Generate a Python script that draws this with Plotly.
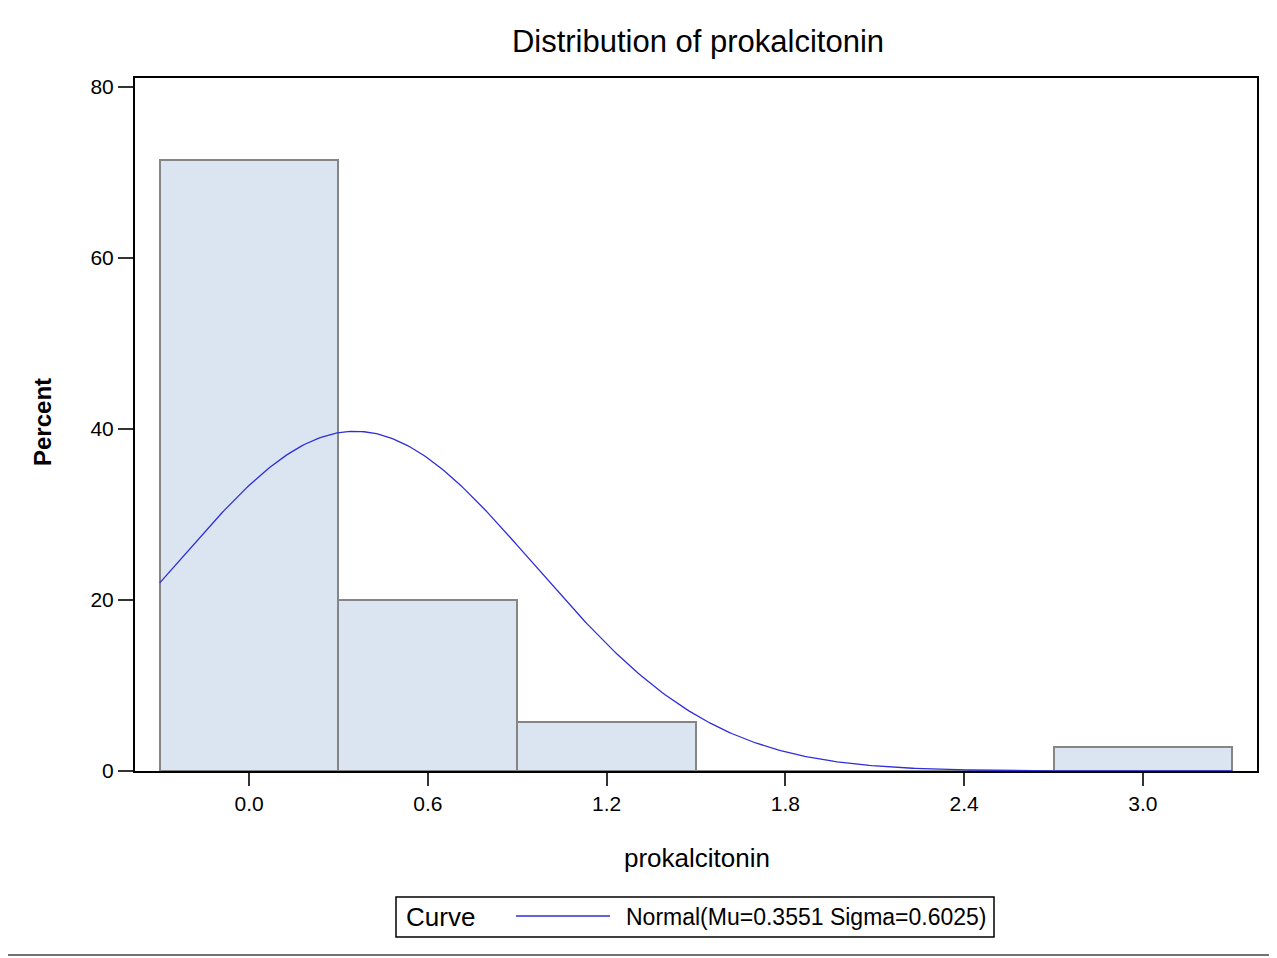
import numpy as np
import plotly.graph_objects as go

# Histogram data (percent per bin, bin width 0.6)
bin_midpoints = [0.0, 0.6, 1.2, 1.8, 2.4, 3.0]
bin_percents = [71.43, 20.0, 5.71, 0.0, 0.0, 2.86]
BIN_WIDTH = 0.6

# Fitted normal curve parameters (from the legend)
MU = 0.3551
SIGMA = 0.6025
x_tick_vals = [0.0, 0.6, 1.2, 1.8, 2.4, 3.0]
x_tick_text = ["0.0", "0.6", "1.2", "1.8", "2.4", "3.0"]
y_tick_vals = [0, 20, 40, 60, 80]

FONT = "Liberation Sans Narrow, Arial Narrow, Liberation Sans, sans-serif"
CURVE_COLOR = "#2E2EDA"

curve_x = np.linspace(-0.3, 3.3, 400)
curve_y = 100 * BIN_WIDTH * np.exp(-0.5 * ((curve_x - MU) / SIGMA) ** 2) / (SIGMA * np.sqrt(2 * np.pi))

fig = go.Figure()
fig.add_trace(go.Bar(
    x=bin_midpoints, y=bin_percents, width=BIN_WIDTH,
    marker=dict(color="#DBE5F1", line=dict(color="#858585", width=2)),
    showlegend=False,
))
fig.add_trace(go.Scatter(
    x=curve_x, y=curve_y, mode="lines",
    line=dict(color=CURVE_COLOR, width=1.3),
    showlegend=False,
))

OFF = 8  # page body margin
W, H = 1277 - OFF, 958 - OFF
L, R, T, B = 135 - OFF, 1257 - OFF, 78 - OFF, 771 - OFF
pw, ph = R - L, B - T

def px(x):
    return (x - OFF - L) / pw

def py(y):
    return (B - (y - OFF)) / ph

fig.update_layout(
    width=W, height=H,
    margin=dict(l=L, r=W - R, t=T, b=H - B),
    plot_bgcolor="white", paper_bgcolor="white",
    font=dict(family=FONT, color="black", size=18),
    bargap=0,
    title=dict(text="Distribution of prokalcitonin", x=(698 - OFF) / W, xanchor="center",
               xref="container", y=1 - (41 - OFF) / H, yanchor="middle", yref="container",
               font=dict(size=31, family=FONT)),
    xaxis=dict(range=[-0.383, 3.383], tickvals=x_tick_vals, ticktext=x_tick_text,
               ticks="outside", ticklen=13, tickwidth=2, tickcolor="#333",
               showgrid=False, zeroline=False,
               showline=True, linecolor="black", linewidth=2, mirror=True,
               tickfont=dict(size=21)),
    yaxis=dict(range=[0, 81.05], tickvals=y_tick_vals,
               ticks="outside", ticklen=15, tickwidth=2, tickcolor="#333",
               showgrid=False, zeroline=False,
               showline=True, linecolor="black", linewidth=2, mirror=True,
               tickfont=dict(size=21)),
)

# Axis titles
fig.add_annotation(text="prokalcitonin", xref="paper", yref="paper", x=px(697), y=py(858),
                   xanchor="center", yanchor="middle", showarrow=False,
                   font=dict(size=26, family=FONT))
fig.add_annotation(text="<b>Percent</b>", xref="paper", yref="paper", x=px(42), y=py(422),
                   xanchor="center", yanchor="middle", showarrow=False, textangle=-90,
                   font=dict(size=24, family=FONT))

# Manual legend box
fig.add_shape(type="rect", xref="paper", yref="paper",
              x0=px(396), x1=px(994), y0=py(937), y1=py(897),
              line=dict(color="black", width=1.5), fillcolor="white")
fig.add_shape(type="line", xref="paper", yref="paper",
              x0=px(516), x1=px(610), y0=py(916), y1=py(916),
              line=dict(color=CURVE_COLOR, width=1.5))
fig.add_annotation(text="Curve", xref="paper", yref="paper", x=px(404), y=py(917),
                   xanchor="left", yanchor="middle", showarrow=False,
                   font=dict(size=26, family=FONT))
fig.add_annotation(text="Normal(Mu=0.3551 Sigma=0.6025)", xref="paper", yref="paper",
                   x=px(624), y=py(917), xanchor="left", yanchor="middle", showarrow=False,
                   font=dict(size=23, family=FONT))
# Bottom separator line
fig.add_shape(type="line", xref="paper", yref="paper",
              x0=px(0), x1=px(1277), y0=py(955), y1=py(955),
              line=dict(color="#444", width=1.5))

fig.write_html("out.html")
